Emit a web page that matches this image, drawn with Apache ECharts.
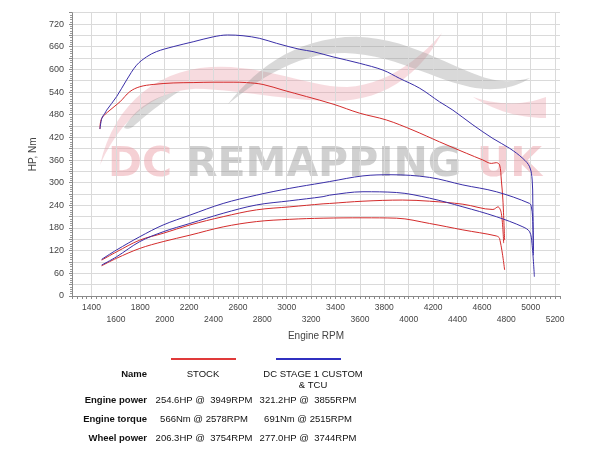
<!DOCTYPE html>
<html>
<head>
<meta charset="utf-8">
<script src="https://cdn.jsdelivr.net/npm/echarts@6/dist/echarts.min.js"></script>
<style>html,body{margin:0;padding:0;background:#fff}#c{width:600px;height:449px}</style>
</head>
<body>
<div id="c"></div>
<script>
// ---- data (RPM, value) ----
const stockTorque = [[1469,442],[1483,470],[1551,492],[1633,514],[1714,541],[1796,554],[1905,560],[2069,564],[2233,565],[2397,566],[2561,566],[2670,565],[2806,560],[2970,545],[3162,528],[3380,508],[3598,484],[3817,466],[4035,439],[4253,408],[4472,378],[4608,360],[4677,351],[4718,353],[4745,347],[4759,307],[4772,254],[4786,148]];
const tunedTorque = [[1469,442],[1485,471],[1510,484],[1524,492],[1606,528],[1688,572],[1769,611],[1851,633],[1933,647],[2069,660],[2233,673],[2397,686],[2515,691],[2642,689],[2779,682],[2916,669],[3107,653],[3216,647],[3380,633],[3598,616],[3789,598],[3926,576],[4090,550],[4253,514],[4362,492],[4526,453],[4690,417],[4827,391],[4936,364],[4991,342],[5012,307],[5017,254],[5022,108]];
const stockPower = [[1483,95],[1606,117],[1796,148],[1987,166],[2206,188],[2479,210],[2752,228],[3025,236],[3298,244],[3352,245],[3625,251],[3949,254],[4171,251],[4444,243],[4690,229],[4731,236],[4759,219],[4778,140]];
const tunedPower = [[1483,97],[1606,122],[1796,157],[1987,188],[2206,214],[2479,245],[2752,267],[3025,285],[3298,300],[3352,303],[3625,318],[3855,321],[4171,314],[4444,294],[4718,276],[4991,245],[5005,236],[5015,210],[5022,120]];
const stockWheel = [[1483,80],[1606,100],[1796,126],[1987,144],[2206,161],[2479,183],[2752,197],[3025,203],[3298,206],[3625,207],[3899,206],[4171,192],[4444,175],[4718,159],[4745,152],[4786,69]];
const tunedWheel = [[1483,82],[1606,104],[1796,144],[1987,170],[2206,192],[2479,219],[2752,241],[3025,252],[3298,263],[3352,267],[3625,276],[3899,274],[4171,259],[4444,236],[4718,210],[4936,183],[4991,170],[5010,140],[5030,51]];
const xGridTicks = [1400,1600,1800,2000,2200,2400,2600,2800,3000,3200,3400,3600,3800,4000,4200,4400,4600,4800,5000,5200];
const seriesNames = ['STOCK', 'DC STAGE 1 CUSTOM\n& TCU'];
const rowNames = ['Engine power', 'Engine torque', 'Wheel power'];
const stockSummary = ['254.6HP @  3949RPM', '566Nm @ 2578RPM', '206.3HP @  3754RPM'];
const tunedSummary = ['321.2HP @  3855RPM', '691Nm @ 2515RPM', '277.0HP @  3744RPM'];

const RED = '#d42c2c', BLUE = '#3a2fa8';
const FONT = '"Liberation Sans", Arial, sans-serif';
const chart = echarts.init(document.getElementById('c'), null, {renderer: 'canvas'});

function line(name, data, color) {
  return {name, type: 'line', data, showSymbol: false, symbol: 'none', smooth: 0.35,
    lineStyle: {color, width: 1}, z: 5, silent: true};
}

// decorative watermark outline: start point + cubic segments, sampled to polygon
function bez(start, segs) {
  const pts = [start];
  let p0 = start;
  segs.forEach(s => {
    const [c1, c2, p3] = s;
    for (let i = 1; i <= 14; i++) {
      const t = i / 14, u = 1 - t;
      pts.push([
        u*u*u*p0[0] + 3*u*u*t*c1[0] + 3*u*t*t*c2[0] + t*t*t*p3[0],
        u*u*u*p0[1] + 3*u*u*t*c1[1] + 3*u*t*t*c2[1] + t*t*t*p3[1]
      ]);
    }
    p0 = p3;
  });
  return pts;
}
const PINK = 'rgba(232,150,160,0.34)', GRAYW = 'rgba(150,150,150,0.36)';
const graphic = [
  {type: 'polygon', z: 1, silent: true, shape: {points: bez([100,165], [
    [[112,110],[150,75],[200,68]], [[250,62],[290,80],[330,86]], [[370,92],[410,70],[442,33]],
    [[418,78],[380,101],[335,101]], [[295,101],[250,92],[205,89]], [[160,86],[122,115],[100,165]]])}, style: {fill: PINK}},
  {type: 'polygon', z: 1, silent: true, shape: {points: bez([473,97], [
    [[500,106],[525,105],[546,97]], [[546,104],[546,111],[546,118]], [[520,118],[495,111],[473,97]]])}, style: {fill: PINK}},
  {type: 'polygon', z: 1, silent: true, shape: {points: bez([228,104], [
    [[255,70],[290,42],[345,37]], [[400,34],[440,62],[480,76]], [[500,83],[515,82],[530,78]],
    [[515,88],[495,92],[470,87]], [[430,78],[395,55],[345,53]], [[300,52],[260,78],[228,104]]])}, style: {fill: GRAYW}},
  {type: 'polygon', z: 1, silent: true, shape: {points: bez([124,128], [
    [[135,108],[155,96],[180,91]], [[165,100],[150,112],[136,124]], [[132,128],[128,130],[124,128]]])}, style: {fill: GRAYW}},
  // watermark text
  {type: 'text', z: 1, silent: true, style: {text: 'DC', x: 108, y: 165, textVerticalAlign: 'middle', font: 'bold 41px "DejaVu Sans"', fill: 'rgba(232,150,160,0.45)'}},
  {type: 'text', z: 1, silent: true, style: {text: 'REMAPPING', x: 186, y: 165, textVerticalAlign: 'middle', font: 'bold 41px "DejaVu Sans"', fill: 'rgba(150,150,150,0.45)'}},
  {type: 'text', z: 1, silent: true, style: {text: 'UK', x: 477, y: 165, textVerticalAlign: 'middle', font: 'bold 41px "DejaVu Sans"', fill: 'rgba(232,150,160,0.45)'}},
  // summary table
  {type: 'line', shape: {x1: 171, y1: 359, x2: 236, y2: 359}, style: {stroke: '#e03a3a', lineWidth: 2}},
  {type: 'line', shape: {x1: 276, y1: 359, x2: 341, y2: 359}, style: {stroke: '#3030c0', lineWidth: 2}},
  {type: 'text', style: {text: 'Name', x: 147, y: 374, textAlign: 'right', textVerticalAlign: 'middle', font: 'bold 9.5px ' + FONT, fill: '#111'}},
  {type: 'text', style: {text: seriesNames[0], x: 203, y: 374, textAlign: 'center', textVerticalAlign: 'middle', font: '9.5px ' + FONT, fill: '#111'}},
  {type: 'text', style: {text: seriesNames[1], x: 313, y: 368.5, textAlign: 'center', textVerticalAlign: 'top', font: '9.5px ' + FONT, fill: '#111', lineHeight: 11}}
];
rowNames.forEach((n, i) => {
  const y = 400 + i * 19;
  graphic.push({type: 'text', style: {text: n, x: 147, y, textAlign: 'right', textVerticalAlign: 'middle', font: 'bold 9.5px ' + FONT, fill: '#111'}});
  graphic.push({type: 'text', style: {text: stockSummary[i], x: 204, y, textAlign: 'center', textVerticalAlign: 'middle', font: '9.5px ' + FONT, fill: '#111'}});
  graphic.push({type: 'text', style: {text: tunedSummary[i], x: 308, y, textAlign: 'center', textVerticalAlign: 'middle', font: '9.5px ' + FONT, fill: '#111'}});
});

chart.setOption({
  animation: false,
  backgroundColor: '#fff',
  grid: {left: 72, right: 40, top: 12.7, bottom: 153, containLabel: false},
  xAxis: {
    type: 'value', min: 1240, max: 5240, interval: 40,
    name: 'Engine RPM', nameLocation: 'middle', nameGap: 34,
    nameTextStyle: {fontFamily: FONT, fontSize: 10, color: '#444'},
    axisLine: {show: true, lineStyle: {color: '#8a8a8a'}},
    axisTick: {show: true, length: 3, lineStyle: {color: '#8a8a8a'}},
    splitLine: {show: false},
    axisLabel: {
      margin: 6, fontFamily: FONT, fontSize: 8.5, color: '#444', lineHeight: 12,
      formatter: v => {
        if (v % 200 !== 0 || v < 1400 || v > 5200) return '';
        return ((v / 200) % 2 === 1) ? String(v) : '\n' + v;
      }
    }
  },
  yAxis: {
    type: 'value', min: 0, max: 750, interval: 30,
    name: 'HP, Nm', nameLocation: 'middle', nameGap: 25, nameRotate: 90,
    nameTextStyle: {fontFamily: FONT, fontSize: 10, color: '#444'},
    axisLine: {show: true, lineStyle: {color: '#8a8a8a'}},
    axisTick: {show: true, length: 3, lineStyle: {color: '#8a8a8a'}},
    minorTick: {show: true, splitNumber: 5, length: 2, lineStyle: {color: '#9a9a9a'}},
    splitLine: {show: true, lineStyle: {color: '#dadada', width: 1}},
    axisLabel: {margin: 8, fontFamily: FONT, fontSize: 9, color: '#444',
      formatter: v => (v % 60 === 0 && v <= 720) ? String(v) : ''}
  },
  graphic,
  series: [
    {type: 'line', data: [], silent: true, z: 1, symbol: 'none',
      markLine: {silent: true, symbol: 'none', animation: false, label: {show: false},
        lineStyle: {color: '#dadada', width: 1, type: 'solid'},
        emphasis: {disabled: true},
        data: xGridTicks.map(v => ({xAxis: v}))}},
    line('Stock torque', stockTorque, RED),
    line('Stock power', stockPower, RED),
    line('Stock wheel power', stockWheel, RED),
    line('Tuned torque', tunedTorque, BLUE),
    line('Tuned power', tunedPower, BLUE),
    line('Tuned wheel power', tunedWheel, BLUE)
  ]
});
</script>
</body>
</html>
